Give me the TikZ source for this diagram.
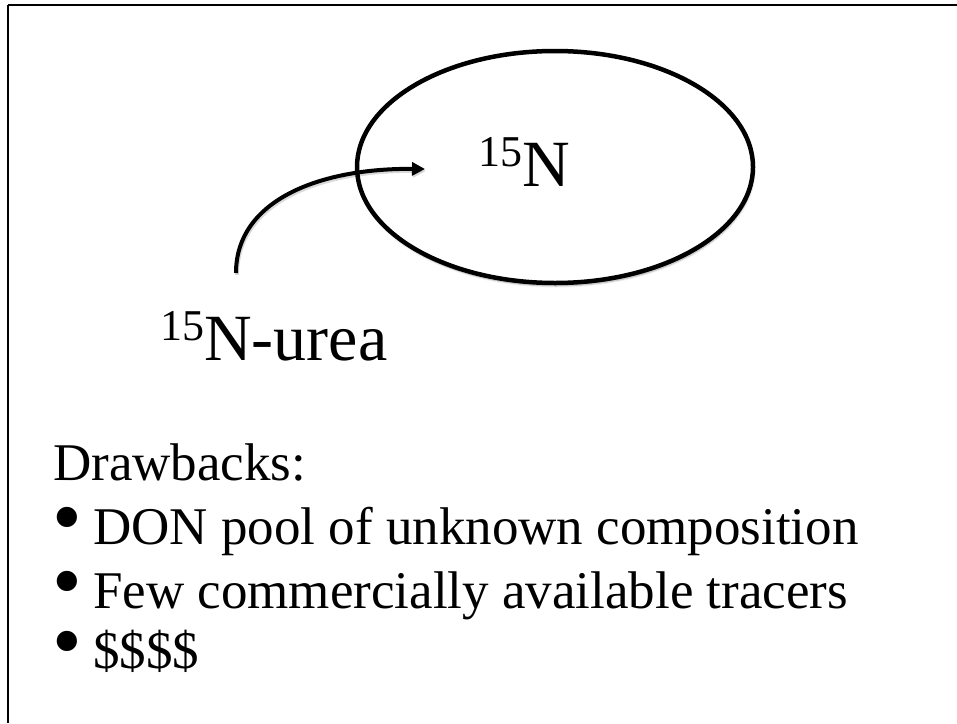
\documentclass[tikz,border=0pt]{standalone}
\usepackage{fontspec}
\usepackage{graphicx}
\setmainfont{Liberation Serif}
\usetikzlibrary{arrows.meta,shapes.geometric,shadows.blur}

\tikzset{
  frameline/.style={line width=2pt, black},
  poolshape/.style={ellipse, draw, line width=4.5pt, fill=white,
    minimum width=396pt, minimum height=232pt, inner sep=0pt,
    blur shadow={shadow xshift=1pt, shadow yshift=-3pt, shadow blur steps=6, shadow opacity=35}},
  flowarrow/.style={line width=4pt, -{Triangle[length=13pt,width=13pt]}},
  flowshadow/.style={line width=4pt, black, opacity=0.15, -{Triangle[length=13pt,width=13pt]}},
  biglabel/.style={anchor=base west, inner sep=0pt, font=\fontsize{66}{66}\selectfont},
  listtext/.style={anchor=base west, inner sep=0pt, font=\fontsize{53}{53}\selectfont},
}
\newcommand{\isotope}[1]{\raisebox{20pt}{\fontsize{44}{44}\selectfont #1}}
% list item: enlarged bullet in a fixed-width slot, then the text
\newcommand{\listitem}{\makebox[41pt][l]{\raisebox{-1.5pt}{\scalebox{1.6}{•}}}}

\begin{document}
\begin{tikzpicture}[x=1pt, y=-1pt]
  \useasboundingbox (0,0) rectangle (957,723);

  % slide frame (top and left edges)
  \draw[frameline] (7.5,5) -- (957,5);
  \draw[frameline] (7.5,5) -- (7.5,723);

  % the DON pool
  \node[poolshape] (pool) at (555,167) {};
  \node[biglabel] (poolN) at (478,186) {\isotope{15}N};

  % tracer addition
  \node[biglabel] (urea) at (160,360) {\isotope{15}N-urea};
  \coordinate (src) at (236,273);
  \coordinate (tip) at (425,169);
  \draw[flowshadow] ([shift={(1,2)}]src) .. controls ([shift={(1,2)}]236,200) and ([shift={(1,2)}]320,168) .. ([shift={(1,2)}]tip);
  \draw[flowarrow] (src) .. controls (236,200) and (320,168) .. (tip);

  % drawbacks list
  \node[listtext] (head) at (53,480) {Drawbacks:};
  \node[listtext] (t1) at (52,544) {\listitem DON pool of unknown composition};
  \node[listtext] (t2) at (52,608) {\listitem Few commercially available tracers};
  \node[listtext] (t3) at (52,668) {\listitem\$\$\$\$};
\end{tikzpicture}
\end{document}
